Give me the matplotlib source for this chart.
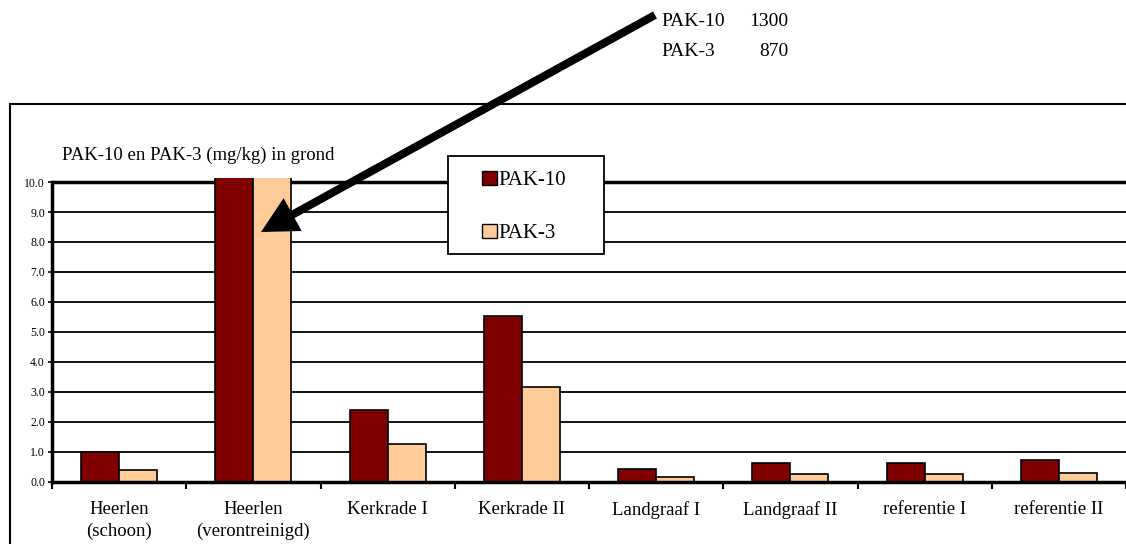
import matplotlib.pyplot as plt
from matplotlib.patches import Rectangle, Patch

plt.rcParams['font.family'] = ['Liberation Serif', 'DejaVu Serif']

# gebieden en gemeten gehaltes (mg/kg)
gebieden = ['Heerlen\n(schoon)', 'Heerlen\n(verontreinigd)', 'Kerkrade I', 'Kerkrade II',
            'Landgraaf I', 'Landgraaf II', 'referentie I', 'referentie II']
pak10 = [1.0, 1300, 2.4, 5.53, 0.45, 0.65, 0.65, 0.72]
pak3 = [0.39, 870, 1.26, 3.18, 0.18, 0.26, 0.26, 0.31]
yticks = [0, 1, 2, 3, 4, 5, 6, 7, 8, 9, 10]

kleur10 = '#800000'
kleur3 = '#FFCC99'

W, H = 1126, 544
fig = plt.figure(figsize=(W / 100, H / 100), dpi=100)

# kader rond de grafiek (rechts en onder buiten beeld)
fig.patches.append(Rectangle((10 / W, -0.1), 1.2, 1.1 - 104 / H, transform=fig.transFigure,
                             fill=False, edgecolor='black', lw=1.5))

ymax = 10.15
ax = fig.add_axes([52 / W, 1 - 482 / H, 1 - 52 / W, ymax * 30 / H])
ax.set_xlim(0, len(gebieden))
ax.set_ylim(0, ymax)

b = 0.283
x = [i + 0.5 for i in range(len(gebieden))]
ax.bar([v - b / 2 for v in x], pak10, width=b, color=kleur10, edgecolor='black', lw=1.2, zorder=3)
ax.bar([v + b / 2 for v in x], pak3, width=b, color=kleur3, edgecolor='black', lw=1.2, zorder=3)

# rasterlijnen
for y in yticks[1:-1]:
    ax.axhline(y, color='black', lw=1.3, zorder=1)
ax.axhline(10, color='black', lw=2.5, zorder=1)

for s in ['top', 'right']:
    ax.spines[s].set_visible(False)
ax.spines['left'].set_linewidth(2.5)
ax.spines['left'].set_bounds(0, 10)
ax.spines['bottom'].set_linewidth(2.5)
ax.spines['bottom'].set_zorder(4)

ax.set_yticks(yticks)
ax.set_yticklabels([f'{v:.1f}' for v in yticks], fontsize=8.5)
ax.tick_params(axis='y', length=3, width=1.2, pad=2)

ax.set_xticks(range(len(gebieden) + 1))
ax.set_xticklabels([])
ax.tick_params(axis='x', which='major', length=5, width=1.5, direction='out')
ax.set_xticks(x, minor=True)
ax.set_xticklabels(gebieden, minor=True, fontsize=13.5, linespacing=1.3)
ax.tick_params(axis='x', which='minor', length=0, pad=14)

fig.text(62 / W, 1 - 155 / H, 'PAK-10 en PAK-3 (mg/kg) in grond', fontsize=13.5, va='center')

# legenda met wit vlak
fig.patches.append(Rectangle((448 / W, 1 - 254 / H), 156 / W, 98 / H, transform=fig.transFigure,
                             facecolor='white', edgecolor='black', lw=1.3, zorder=5))
leg = fig.legend(handles=[Patch(facecolor=kleur10, edgecolor='black', label='PAK-10'),
                          Patch(facecolor=kleur3, edgecolor='black', label='PAK-3')],
                 loc='center left', bbox_to_anchor=(482 / W, 1 - 207 / H), frameon=False,
                 fontsize=15, handlelength=0.7, handleheight=0.7, handletextpad=0.1,
                 labelspacing=1.6, borderpad=0, borderaxespad=0)
leg.set_zorder(6)

# pijl naar de afgekapte staven met de echte waarden
ax.annotate('', xy=(261, H - 232), xycoords='figure pixels',
            xytext=(655, H - 15), textcoords='figure pixels',
            arrowprops=dict(arrowstyle='simple,head_length=1.3,head_width=1.35,tail_width=0.29',
                            lw=0, color='black', mutation_scale=20, shrinkA=0, shrinkB=0),
            zorder=7)
fig.text(661 / W, 1 - 21 / H, 'PAK-10', fontsize=14, va='center')
fig.text(788 / W, 1 - 21 / H, f'{pak10[1]:.0f}', fontsize=14, va='center', ha='right')
fig.text(661 / W, 1 - 52 / H, 'PAK-3', fontsize=14, va='center')
fig.text(788 / W, 1 - 52 / H, f'{pak3[1]:.0f}', fontsize=14, va='center', ha='right')

fig.savefig('out.png', dpi=100)
